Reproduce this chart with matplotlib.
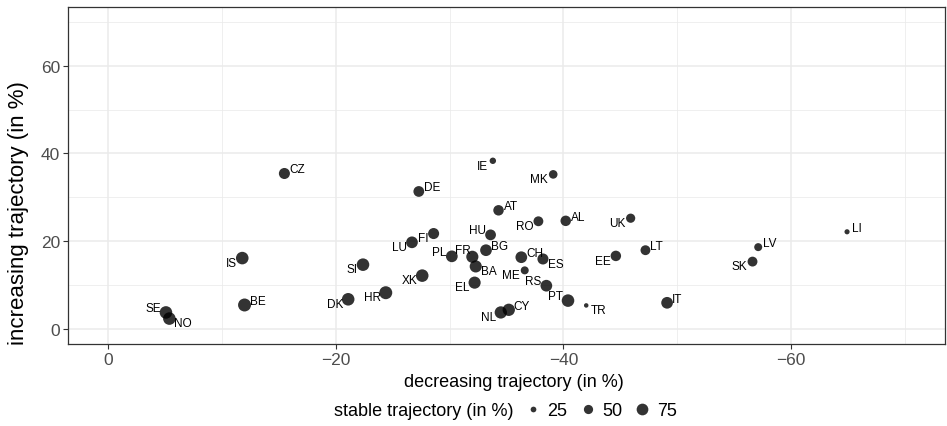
import matplotlib
matplotlib.use('Agg')
import matplotlib.pyplot as plt
from matplotlib.lines import Line2D
from matplotlib.ticker import FixedLocator
import numpy as np

# ---------------- data ----------------
countries = ['SE', 'NO', 'BE', 'IS', 'CZ', 'SI', 'DK', 'HR', 'DE', 'IE', 'MK', 'AT',
             'RO', 'AL', 'UK', 'HU', 'FI', 'LU', 'PL', 'FR', 'BG', 'CH', 'ES', 'BA',
             'ME', 'RS', 'XK', 'EL', 'PT', 'TR', 'IT', 'NL', 'CY', 'LT', 'EE', 'LV',
             'SK', 'LI']
decreasing = [-5.1, -5.4, -12.0, -11.8, -15.5, -22.4, -21.1, -24.4, -27.3, -33.8, -39.1, -34.3,
              -37.8, -40.2, -45.9, -33.6, -28.6, -26.7, -30.2, -32.0, -33.2, -36.3, -38.2, -32.3,
              -36.6, -38.5, -27.6, -32.2, -40.4, -42.0, -49.1, -34.5, -35.2, -47.2, -44.6, -57.1,
              -56.6, -64.9]
increasing = [3.7, 2.3, 5.4, 16.1, 35.4, 14.6, 6.7, 8.2, 31.3, 38.3, 35.2, 27.0,
              24.5, 24.6, 25.2, 21.4, 21.7, 19.7, 16.5, 16.4, 17.9, 16.3, 15.9, 14.2,
              13.3, 9.8, 12.1, 10.5, 6.4, 5.3, 5.9, 3.7, 4.3, 17.9, 16.6, 18.6,
              15.3, 22.1]
stable = [85, 85, 90, 85, 68, 85, 85, 90, 65, 29, 45, 62,
          56, 62, 50, 65, 68, 75, 75, 80, 75, 75, 68, 80,
          40, 75, 85, 80, 85, 19, 75, 82, 82, 56, 62, 40,
          56, 22]
legend_values = [25, 50, 75]

# ---------------- label placement (layout) ----------------
side = {'SE': 'ul', 'NO': 'dr', 'BE': 'ur', 'IS': 'dl', 'CZ': 'ur', 'SI': 'dl', 'DK': 'dl',
        'HR': 'dl', 'DE': 'ur', 'IE': 'dl', 'MK': 'dl', 'AT': 'ur', 'RO': 'dl', 'AL': 'ur',
        'UK': 'dl', 'HU': 'ul', 'FI': 'dl', 'LU': 'dl', 'PL': 'ul', 'FR': 'ul', 'BG': 'ur',
        'CH': 'ur', 'ES': 'dr', 'BA': 'dr', 'ME': 'dl', 'RS': 'ul', 'XK': 'dl', 'EL': 'dl',
        'PT': 'ul', 'TR': 'dr', 'IT': 'ur', 'NL': 'dl', 'CY': 'ur', 'LT': 'ur', 'EE': 'dl',
        'LV': 'ur', 'SK': 'dl', 'LI': 'ur'}
offsets = {'ur': (3.6, 3.0), 'dl': (-3.6, -3.4), 'ul': (-3.6, 3.2), 'dr': (3.6, -3.4)}
special = {'FR': (-0.8, 5.0)}

plt.rcParams['font.family'] = ['Liberation Sans', 'DejaVu Sans']


def to_s(v):
    return np.maximum(1.08 * np.asarray(v, dtype=float) - 10.0, 2.0)


fig = plt.figure(figsize=(9.47, 4.27), dpi=100)
ax = fig.add_axes([68 / 947, 1 - 345 / 427, (945 - 68) / 947, (345 - 7.5) / 427])

ax.set_xlim(3.5, -73.5)
ax.set_ylim(-3.5, 73.5)
ax.xaxis.set_major_locator(FixedLocator([0, -20, -40, -60]))
ax.xaxis.set_minor_locator(FixedLocator([-10, -30, -50, -70]))
ax.yaxis.set_major_locator(FixedLocator([0, 20, 40, 60]))
ax.yaxis.set_minor_locator(FixedLocator([10, 30, 50, 70]))
ax.grid(which='major', color='#EBEBEB', lw=1.1)
ax.grid(which='minor', color='#EBEBEB', lw=0.55)
ax.set_axisbelow(True)
ax.tick_params(which='major', length=3.5, width=0.8, color='#333333',
               labelcolor='#4D4D4D', labelsize=12.5, pad=2)
ax.tick_params(which='minor', length=0)
for sp in ax.spines.values():
    sp.set_color('#333333')
    sp.set_linewidth(0.9)

ax.scatter(decreasing, increasing, s=to_s(stable), color='black', alpha=0.8,
           linewidths=0, zorder=3)

for c, x, y in zip(countries, decreasing, increasing):
    sd = side[c]
    dx, dy = special.get(c, offsets[sd])
    ha = 'left' if sd[1] == 'r' else 'right'
    ax.annotate(c, (x, y), xytext=(dx, dy), textcoords='offset points',
                ha=ha, va='center', fontsize=8.5, color='black', zorder=4)

ax.set_xlabel('decreasing trajectory (in %)', fontsize=13)
ax.xaxis.set_label_coords(0.5086, -0.086)
ax.set_ylabel('increasing trajectory (in %)', fontsize=16)
ax.yaxis.set_label_coords(-0.045, 0.39)

handles = [Line2D([], [], ls='', marker='o', color='black', alpha=0.8,
                  markeredgewidth=0, markersize=float(np.sqrt(to_s(v))))
           for v in legend_values]
fig.text(513 / 947, 1 - 411.5 / 427, 'stable trajectory (in %)', ha='right', va='center',
         fontsize=13)
fig.legend(handles, [str(v) for v in legend_values], loc='center left',
           bbox_to_anchor=(524 / 947, 1 - 411.5 / 427), ncol=3, frameon=False,
           handlelength=1.0, handletextpad=0.3, columnspacing=0.62, fontsize=13,
           borderpad=0, borderaxespad=0)

fig.savefig('out.png', dpi=100)
